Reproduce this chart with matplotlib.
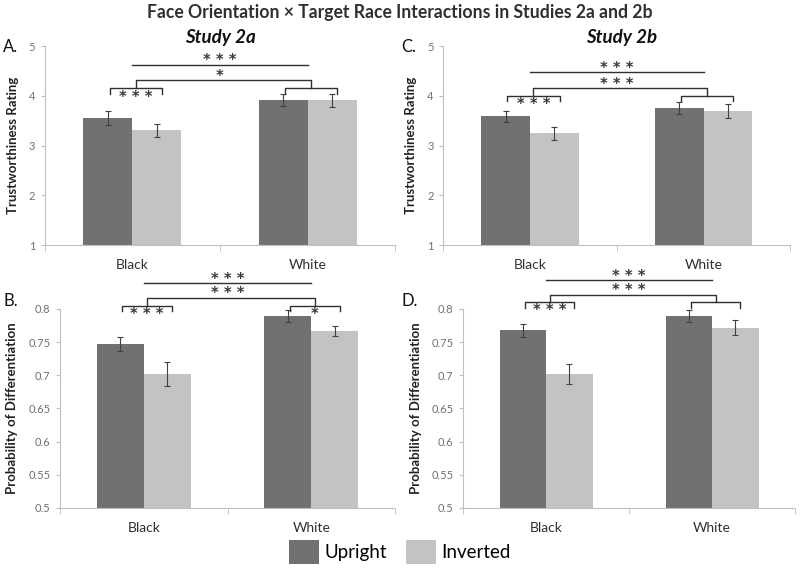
import matplotlib
matplotlib.use("Agg")
import matplotlib.pyplot as plt
from matplotlib.patches import Patch
import numpy as np

plt.rcParams['font.family'] = ['Lato', 'DejaVu Sans']

categories = ["Black", "White"]
series = ["Upright", "Inverted"]
colors = ["#717171", "#c3c3c3"]

# Study 2a trustworthiness (A)
trustA_up = [3.56, 3.92]
trustA_inv = [3.31, 3.91]
trustA_up_err = [0.14, 0.12]
trustA_inv_err = [0.13, 0.13]
# Study 2b trustworthiness (C)
trustC_up = [3.59, 3.76]
trustC_inv = [3.25, 3.70]
trustC_up_err = [0.11, 0.12]
trustC_inv_err = [0.13, 0.14]
# Study 2a differentiation (B)
diffB_up = [0.747, 0.789]
diffB_inv = [0.702, 0.767]
diffB_up_err = [0.010, 0.009]
diffB_inv_err = [0.0175, 0.008]
# Study 2b differentiation (D)
diffD_up = [0.768, 0.790]
diffD_inv = [0.702, 0.772]
diffD_up_err = [0.010, 0.009]
diffD_inv_err = [0.015, 0.012]

# bracket levels: (small bracket, leg drop, middle bracket, top line)
# and labels (black, white, middle, top)
bracketsA = [4.15, 0.11, 4.31, 4.63]
labelsA = ["* * *", "", "*", "* * *"]
bracketsC = [4.0, 0.11, 4.16, 4.48]
labelsC = ["* * *", "", "* * *", "* * *"]
bracketsB = [0.805, 0.0075, 0.817, 0.839]
labelsB = ["* * *", "*", "* * *", "* * *"]
bracketsD = [0.8105, 0.0085, 0.8215, 0.843]
labelsD = ["* * *", "", "* * *", "* * *"]

W = 0.28
STAR = dict(family="DejaVu Sans", fontsize=10.5, fontweight="bold", color="#3a3a3a",
            ha="center", va="baseline", textcoords="offset points", annotation_clip=False)


def draw_panel(ax, up, inv, up_err, inv_err, ylim, yticks, yfmt, ylabel, br, lab):
    x = np.arange(len(categories))
    base = ylim[0]
    ax.bar(x - W / 2, np.array(up) - base, W, bottom=base, color=colors[0], zorder=2)
    ax.bar(x + W / 2, np.array(inv) - base, W, bottom=base, color=colors[1], zorder=2)
    ax.errorbar(x - W / 2, up, yerr=up_err, fmt="none", ecolor="#404040",
                elinewidth=0.8, capsize=2, capthick=0.8, zorder=3)
    ax.errorbar(x + W / 2, inv, yerr=inv_err, fmt="none", ecolor="#404040",
                elinewidth=0.8, capsize=2, capthick=0.8, zorder=3)
    ax.set_xlim(-0.5, 1.5)
    ax.set_ylim(*ylim)
    ax.set_yticks(yticks)
    ax.set_yticklabels([yfmt(t) for t in yticks])
    ax.set_xticks(x)
    ax.set_xticklabels(categories, fontsize=10, color="#303030")
    ax.set_xticks([-0.5, 0.5, 1.5], minor=True)
    ax.tick_params(axis="x", which="major", length=0, pad=10)
    ax.tick_params(axis="x", which="minor", length=4, color="#bfbfbf", direction="out")
    ax.tick_params(axis="y", length=3, color="#bfbfbf", labelsize=8, labelcolor="#707070", pad=4)
    for s in ["top", "right"]:
        ax.spines[s].set_visible(False)
    for s in ["left", "bottom"]:
        ax.spines[s].set_color("#bfbfbf")
        ax.spines[s].set_linewidth(0.8)
    ax.set_ylabel(ylabel, fontsize=9.5, fontweight="bold", color="#222222", labelpad=7)

    small, drop, mid, top = br
    kw = dict(color="#303030", lw=1.0, clip_on=False, zorder=4)
    centers = x + 0.02
    # small brackets over each race, stars tucked underneath
    for i in range(2):
        x0, x1 = x[i] - 0.13, x[i] + 0.17
        ax.plot([x0, x0, x1, x1], [small - drop, small, small, small - drop], **kw)
        if lab[i]:
            ax.annotate(lab[i], (centers[i], small), xytext=(0, -9.5), **STAR)
    # middle bracket connecting the two small brackets
    ax.plot([centers[0], centers[0], centers[1], centers[1]], [small, mid, mid, small], **kw)
    ax.annotate(lab[2], (0.5, mid), xytext=(0, -0.5), **STAR)
    # top line
    ax.plot([x[0], x[1]], [top, top], **kw)
    ax.annotate(lab[3], (0.5, top), xytext=(0, -0.5), **STAR)


fig = plt.figure(figsize=(8, 5.7), dpi=100)

axA = fig.add_axes([0.056, 0.570, 0.438, 0.349])
axC = fig.add_axes([0.554, 0.570, 0.434, 0.349])
axB = fig.add_axes([0.075, 0.109, 0.419, 0.349])
axD = fig.add_axes([0.579, 0.109, 0.415, 0.349])

tfmt = lambda t: "%d" % t
dfmt = lambda t: ("%.2f" % t).rstrip("0")

draw_panel(axA, trustA_up, trustA_inv, trustA_up_err, trustA_inv_err, (1, 5),
           [1, 2, 3, 4, 5], tfmt, "Trustworthiness Rating", bracketsA, labelsA)
draw_panel(axC, trustC_up, trustC_inv, trustC_up_err, trustC_inv_err, (1, 5),
           [1, 2, 3, 4, 5], tfmt, "Trustworthiness Rating", bracketsC, labelsC)
dticks = [0.5, 0.55, 0.6, 0.65, 0.7, 0.75, 0.8]
draw_panel(axB, diffB_up, diffB_inv, diffB_up_err, diffB_inv_err, (0.5, 0.8),
           dticks, dfmt, "Probability of Differentiation", bracketsB, labelsB)
draw_panel(axD, diffD_up, diffD_inv, diffD_up_err, diffD_inv_err, (0.5, 0.8),
           dticks, dfmt, "Probability of Differentiation", bracketsD, labelsD)

fig.text(0.5, 0.978, "Face Orientation \u00d7 Target Race Interactions in Studies 2a and 2b",
         ha="center", va="center", fontsize=12.7, fontweight="bold", color="#303030")
fig.text(0.275, 0.935, "Study 2a", ha="center", va="center", fontsize=13.5,
         fontweight="bold", style="italic", color="#111111")
fig.text(0.777, 0.935, "Study 2b", ha="center", va="center", fontsize=13.5,
         fontweight="bold", style="italic", color="#111111")
for lbl, xx, yy in [("A.", 0.004, 0.918), ("C.", 0.502, 0.918),
                    ("B.", 0.004, 0.472), ("D.", 0.502, 0.472)]:
    fig.text(xx, yy, lbl, ha="left", va="center", fontsize=12, color="#111111")

handles = [Patch(facecolor=colors[0]), Patch(facecolor=colors[1])]
fig.legend(handles, series, loc="center", bbox_to_anchor=(0.5, 0.032), ncol=2,
           frameon=False, fontsize=13.5, handlelength=1.6, handleheight=1.6,
           handletextpad=0.3, columnspacing=1.0, borderpad=0)

fig.savefig("out.png", dpi=100, facecolor="white")
